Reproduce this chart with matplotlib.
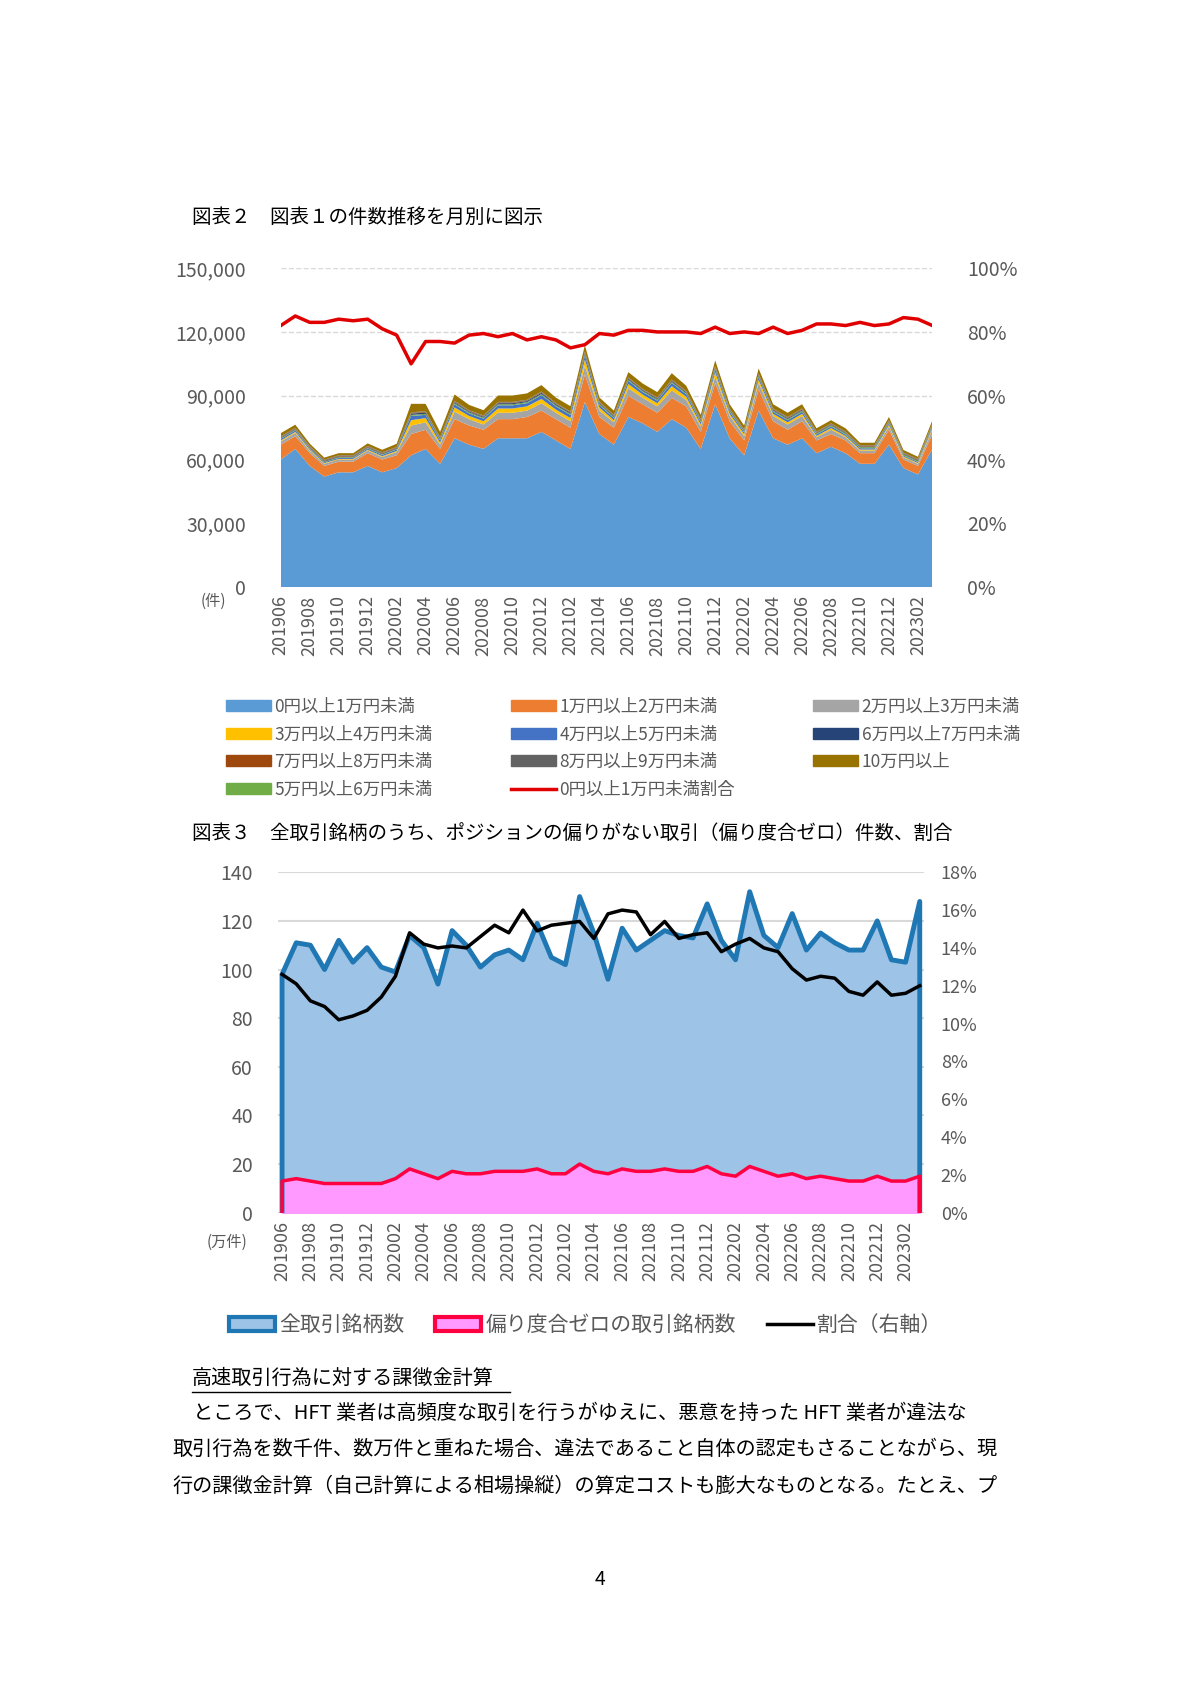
import numpy as np
import matplotlib
matplotlib.use('Agg')
import matplotlib.pyplot as plt
from matplotlib.patches import Patch
from matplotlib.lines import Line2D
from matplotlib.ticker import FuncFormatter

plt.rcParams['font.family'] = ['Noto Sans CJK JP', 'DejaVu Sans']

# months 201906 .. 202303
months = []
y, m = 2019, 6
while (y, m) <= (2023, 3):
    months.append('%d%02d' % (y, m))
    m += 1
    if m > 12:
        y, m = y + 1, 1
n = len(months)

# figure 2 (thousand counts)
b0_1 = [60, 65, 57, 52, 54, 54, 57, 54, 56, 62, 65, 58, 70, 67, 65, 70, 70, 70, 73, 69, 65, 87, 72, 67,
        80, 77, 73, 79, 75, 65, 86, 70, 62, 83, 70, 67, 70, 63, 66, 63, 58, 58, 67, 56, 53, 65]
b1_2 = [7, 6, 6, 5, 5, 5, 6, 6, 6, 10, 9, 7, 9, 9, 9, 9, 9, 10, 10, 10, 10, 13, 8, 8,
        10, 9, 9, 10, 10, 8, 10, 8, 7, 10, 8, 7, 8, 6, 6, 6, 5, 5, 7, 4, 4, 7]
b2_3 = [1.5, 1.5, 1.2, 1, 1, 1, 1.2, 1.2, 1.5, 4, 3.5, 2, 3.5, 3, 2.5, 3, 3, 3, 3.5, 3, 3, 4, 3, 2.5,
        3.5, 3, 3, 3.5, 3, 2.5, 3, 2.5, 2, 3, 2.5, 2.5, 2.5, 1.5, 2, 1.5, 1.2, 1.2, 1.5, 1, 1, 2]
b3_4 = [0.5, 0.5, 0.4, 0.3, 0.3, 0.3, 0.4, 0.4, 0.5, 2.5, 2, 1, 2, 1.5, 1.5, 2, 2, 2, 2, 1.5, 1.5, 3, 1.5, 1,
        2, 1.5, 1.5, 2, 1.5, 1, 2, 1, 1, 1.5, 1, 1, 1, 0.6, 0.8, 0.6, 0.5, 0.5, 0.8, 0.4, 0.4, 0.8]
b4_5 = [0.7, 0.7, 0.5, 0.4, 0.5, 0.5, 0.6, 0.6, 0.7, 2, 1.5, 1, 1.5, 1.2, 1.2, 1.5, 1.5, 1.5, 1.8, 1.5, 1.5, 2, 1.2, 1,
        1.5, 1.2, 1.2, 1.5, 1.2, 1, 1.5, 1, 0.8, 1.2, 1, 1, 1, 0.7, 0.8, 0.7, 0.6, 0.6, 0.8, 0.5, 0.5, 0.8]
b5_6 = [0.3] * 9 + [0.5] * 37
b6_7 = [0.3] * 9 + [0.6, 0.6, 0.4, 0.5, 0.4, 0.4, 0.5, 0.5, 0.5, 0.6, 0.5, 0.5, 0.7, 0.4, 0.4,
                    0.5, 0.4, 0.4, 0.5, 0.4, 0.4, 0.5, 0.4, 0.3, 0.5, 0.4, 0.4, 0.4, 0.3, 0.3, 0.3, 0.3, 0.3, 0.3, 0.3, 0.3, 0.3]
b7_8 = [0.3] * 46
b8_9 = [0.3] * 46
b10 = [1.5, 1.5, 1.2, 1, 1, 1, 1.2, 1.2, 1.5, 4, 3.5, 2.5, 3, 2.5, 2.5, 3, 3, 3, 3, 2.5, 2.5, 3, 2, 2,
       2.5, 2.5, 2.5, 3, 2.5, 2, 2.5, 2, 1.8, 2.5, 2, 2, 2, 1.5, 1.5, 1.5, 1.2, 1.2, 1.5, 1.2, 1, 1.5]
ratio1 = [82, 85, 83, 83, 84, 83.5, 84, 81, 79, 70, 77, 77, 76.5, 79, 79.5, 78.5, 79.5, 77.5, 78.5, 77.5,
          75, 76, 79.5, 79, 80.5, 80.5, 80, 80, 80, 79.5, 81.5, 79.5, 80, 79.5, 81.5, 79.5, 80.5, 82.5, 82.5, 82,
          83, 82, 82.5, 84.5, 84, 82]

layers = [
    ('0円以上1万円未満', b0_1, '#5B9BD5'),
    ('1万円以上2万円未満', b1_2, '#ED7D31'),
    ('2万円以上3万円未満', b2_3, '#A5A5A5'),
    ('3万円以上4万円未満', b3_4, '#FFC000'),
    ('4万円以上5万円未満', b4_5, '#4472C4'),
    ('5万円以上6万円未満', b5_6, '#70AD47'),
    ('6万円以上7万円未満', b6_7, '#264478'),
    ('7万円以上8万円未満', b7_8, '#9E480E'),
    ('8万円以上9万円未満', b8_9, '#636363'),
    ('10万円以上', b10, '#997300'),
]

# figure 3
total_issues = [98, 111, 110, 100, 112, 103, 109, 101, 99, 114, 109, 94, 116, 110, 101, 106, 108, 104, 119, 105,
                102, 130, 115, 96, 117, 108, 112, 116, 114, 113, 127, 112, 104, 132, 114, 109, 123, 108, 115, 111,
                108, 108, 120, 104, 103, 128]
zero_issues = [13, 14, 13, 12, 12, 12, 12, 12, 14, 18, 16, 14, 17, 16, 16, 17, 17, 17, 18, 16,
               16, 20, 17, 16, 18, 17, 17, 18, 17, 17, 19, 16, 15, 19, 17, 15, 16, 14, 15, 14,
               13, 13, 15, 13, 13, 15]
ratio2 = [12.6, 12.1, 11.2, 10.9, 10.2, 10.4, 10.7, 11.4, 12.5, 14.8, 14.2, 14.0, 14.1, 14.0, 14.6, 15.2, 14.8,
          16.0, 14.9, 15.2, 15.3, 15.4, 14.5, 15.8, 16.0, 15.9, 14.7, 15.4, 14.5, 14.7, 14.8, 13.8, 14.2, 14.5,
          14.0, 13.8, 12.9, 12.3, 12.5, 12.4, 11.7, 11.5, 12.2, 11.5, 11.6, 12.0]

x = np.arange(n)
fig = plt.figure(figsize=(12, 16.97), dpi=100)
serif = ['DejaVu Serif', 'Noto Sans CJK JP']
tgray = '#595959'

fig.text(0.160, 0.872, '図表２　図表１の件数推移を月別に図示', fontsize=14, va='center')

# ---- figure 2
ax1 = fig.add_axes([0.234, 0.654, 0.543, 0.188])
vals = [np.array(l[1]) * 1000 for l in layers]
ax1.stackplot(x, *vals, colors=[l[2] for l in layers], edgecolor='none')
ax1.set_xlim(0, n - 1)
ax1.set_ylim(0, 150000)
ax1.set_yticks(np.arange(0, 150001, 30000))
ax1.yaxis.set_major_formatter(FuncFormatter(lambda v, p: '{:,.0f}'.format(v)))
ax1.grid(axis='y', color='#d9d9d9', linestyle='--', linewidth=1)
ax1.set_axisbelow(True)
for s in ax1.spines.values():
    s.set_visible(False)
ax1.tick_params(length=0, labelsize=14, labelcolor=tgray, pad=25)
ax1.set_xticks(x[::2])
ax1.set_xticklabels(months[::2], rotation=90, fontsize=13, color=tgray)
ax1.tick_params(axis='x', pad=6)
ax1r = ax1.twinx()
ax1r.plot(x, ratio1, color='#E00000', linewidth=2.5)
ax1r.set_ylim(0, 100)
ax1r.set_yticks(np.arange(0, 101, 20))
ax1r.yaxis.set_major_formatter(FuncFormatter(lambda v, p: '%d%%' % v))
for s in ax1r.spines.values():
    s.set_visible(False)
ax1r.tick_params(length=0, labelsize=14, labelcolor=tgray, pad=25)
fig.text(0.167, 0.643, '(件)', fontsize=11, color=tgray)

hd = {l[0]: Patch(color=l[2]) for l in layers}
rline = Line2D([], [], color='#E00000', linewidth=2.5)
order = [('0円以上1万円未満', hd['0円以上1万円未満']), ('3万円以上4万円未満', hd['3万円以上4万円未満']),
         ('7万円以上8万円未満', hd['7万円以上8万円未満']), ('5万円以上6万円未満', hd['5万円以上6万円未満']),
         ('1万円以上2万円未満', hd['1万円以上2万円未満']), ('4万円以上5万円未満', hd['4万円以上5万円未満']),
         ('8万円以上9万円未満', hd['8万円以上9万円未満']), ('0円以上1万円未満割合', rline),
         ('2万円以上3万円未満', hd['2万円以上3万円未満']), ('6万円以上7万円未満', hd['6万円以上7万円未満']),
         ('10万円以上', hd['10万円以上'])]
fig.legend([o[1] for o in order], [o[0] for o in order], ncol=3, loc='upper left',
           bbox_to_anchor=(0.175, 0.598), frameon=False, fontsize=12.5, labelcolor=tgray,
           handlelength=2.6, handleheight=0.6, columnspacing=4.5, labelspacing=0.55, handletextpad=0.2)

fig.text(0.160, 0.509, '図表３　全取引銘柄のうち、ポジションの偏りがない取引（偏り度合ゼロ）件数、割合',
         fontsize=14, va='center')

# ---- figure 3
ax2 = fig.add_axes([0.2315, 0.2854, 0.5385, 0.2006])
xe = np.concatenate([[0], x, [n - 1]])
ax2.fill_between(x, total_issues, color='#9DC3E6')
ax2.plot(xe, np.concatenate([[0], total_issues, [0]]), color='#1F77B4', linewidth=3.5)
ax2.fill_between(x, zero_issues, color='#FF99FF')
ax2.plot(xe, np.concatenate([[0], zero_issues, [0]]), color='#FF0040', linewidth=2.5)
ax2.set_xlim(-0.3, n - 0.7)
ax2.set_ylim(0, 140)
ax2.set_yticks(np.arange(0, 141, 20))
ax2.grid(axis='y', color='#d9d9d9', linewidth=1.5)
ax2.set_axisbelow(True)
for s in ax2.spines.values():
    s.set_visible(False)
ax2.tick_params(length=0, labelsize=14, labelcolor=tgray, pad=18)
ax2.set_xticks(x[::2])
ax2.set_xticklabels(months[::2], rotation=90, fontsize=13, color=tgray)
ax2.tick_params(axis='x', pad=6)
ax2r = ax2.twinx()
ax2r.plot(x, ratio2, color='black', linewidth=2.5)
ax2r.set_ylim(0, 18)
ax2r.set_yticks(np.arange(0, 19, 2))
ax2r.yaxis.set_major_formatter(FuncFormatter(lambda v, p: '%d%%' % v))
for s in ax2r.spines.values():
    s.set_visible(False)
ax2r.tick_params(length=0, labelsize=13, labelcolor=tgray, pad=12)
fig.text(0.172, 0.265, '(万件)', fontsize=11, color=tgray)

h2 = [Patch(facecolor='#9DC3E6', edgecolor='#1F77B4', linewidth=3),
      Patch(facecolor='#FF99FF', edgecolor='#FF0040', linewidth=3),
      Line2D([], [], color='black', linewidth=2.5)]
fig.legend(h2, ['全取引銘柄数', '偏り度合ゼロの取引銘柄数', '割合（右軸）'], ncol=3, loc='center left',
           bbox_to_anchor=(0.175, 0.219), frameon=False, fontsize=15, labelcolor=tgray,
           handlelength=2.2, columnspacing=1.5, handletextpad=0.2)

# ---- body text
fig.text(0.160, 0.188, '高速取引行為に対する課徴金計算', fontsize=14.5, va='center')
fig.add_artist(Line2D([0.160, 0.425], [0.180, 0.180], color='black', linewidth=1))
lines = ['　ところで、HFT 業者は高頻度な取引を行うがゆえに、悪意を持った HFT 業者が違法な',
         '取引行為を数千件、数万件と重ねた場合、違法であること自体の認定もさることながら、現',
         '行の課徴金計算（自己計算による相場操縦）の算定コストも膨大なものとなる。たとえ、プ']
for i, t in enumerate(lines):
    fig.text(0.144, 0.167 - i * 0.0213, t, fontsize=14.5, va='center')
fig.text(0.5, 0.069, '4', fontsize=14, ha='center', va='center')

fig.savefig('out.png', dpi=100, facecolor='white')
